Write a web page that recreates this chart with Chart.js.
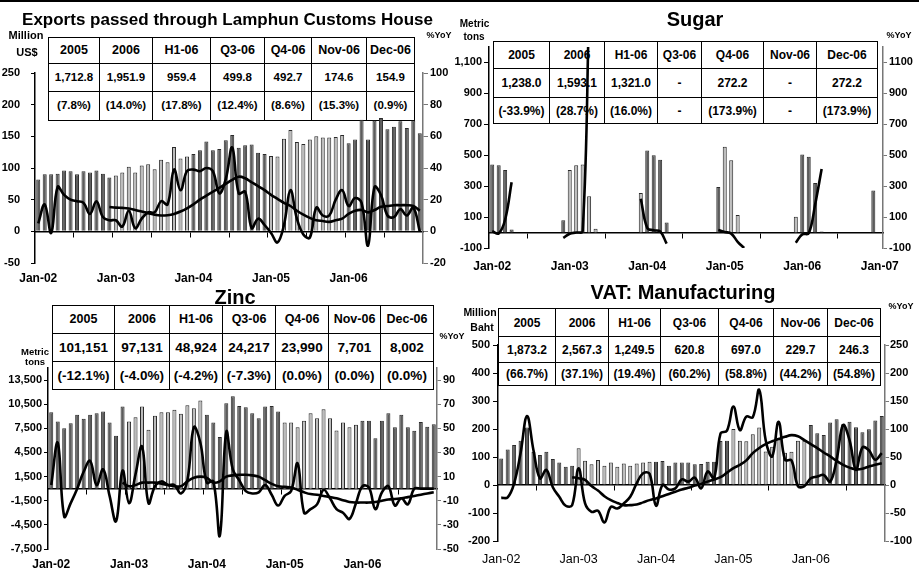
<!DOCTYPE html>
<html><head><meta charset="utf-8">
<script src="https://cdn.jsdelivr.net/npm/chart.js@4.4.0/dist/chart.umd.min.js"></script>
<style>
html,body{margin:0;padding:0;background:#fff;}
body{width:919px;height:568px;overflow:hidden;position:relative;font-family:'Liberation Sans',Arial,sans-serif;color:#000;}
table.t{position:absolute;border-collapse:collapse;font-weight:bold;table-layout:fixed;z-index:1;}
table.t td{border:1.5px solid #000;text-align:center;padding:0;white-space:nowrap;line-height:1;}
.txt{position:absolute;font-weight:bold;text-align:center;white-space:nowrap;line-height:1;z-index:3;}
</style></head>
<body>
<div style="position:absolute;left:0;top:0;width:919px;height:2px;background:#000;z-index:4"></div>
<script>
// ---------- categories ----------
const months = ['Jan-02','Feb-02','Mar-02','Apr-02','May-02','Jun-02','Jul-02','Aug-02','Sep-02','Oct-02','Nov-02','Dec-02',
'Jan-03','Feb-03','Mar-03','Apr-03','May-03','Jun-03','Jul-03','Aug-03','Sep-03','Oct-03','Nov-03','Dec-03',
'Jan-04','Feb-04','Mar-04','Apr-04','May-04','Jun-04','Jul-04','Aug-04','Sep-04','Oct-04','Nov-04','Dec-04',
'Jan-05','Feb-05','Mar-05','Apr-05','May-05','Jun-05','Jul-05','Aug-05','Sep-05','Oct-05','Nov-05','Dec-05',
'Jan-06','Feb-06','Mar-06','Apr-06','May-06','Jun-06','Jul-06','Aug-06','Sep-06','Oct-06','Nov-06','Dec-06',
'Jan-07'];
const months60 = months.slice(0, 60);
const xLabelIdx = [0, 12, 24, 36, 48, 60];
const halfYearMarks = [6, 12, 18, 24, 30, 36, 42, 48, 54];
const midYearMarks = [6, 18, 30, 42, 54];

// ---------- table texts ----------
const tableHeaders = ['2005','2006','H1-06','Q3-06','Q4-06','Nov-06','Dec-06'];
const exportsTableValues = ['1,712.8','1,951.9','959.4','499.8','492.7','174.6','154.9'];
const exportsTableYoY = ['(7.8%)','(14.0%)','(17.8%)','(12.4%)','(8.6%)','(15.3%)','(0.9%)'];
const sugarTableValues = ['1,238.0','1,593.1','1,321.0','-','272.2','-','272.2'];
const sugarTableYoY = ['(-33.9%)','(28.7%)','(16.0%)','-','(173.9%)','-','(173.9%)'];
const zincTableValues = ['101,151','97,131','48,924','24,217','23,990','7,701','8,002'];
const zincTableYoY = ['(-12.1%)','(-4.0%)','(-4.2%)','(-7.3%)','(0.0%)','(0.0%)','(0.0%)'];
const vatTableValues = ['1,873.2','2,567.3','1,249.5','620.8','697.0','229.7','246.3'];
const vatTableYoY = ['(66.7%)','(37.1%)','(19.4%)','(60.2%)','(58.8%)','(44.2%)','(54.8%)'];

// ---------- Exports (Million US$, %YoY) ----------
const exportsBars = [82,90,90,91,96,95,90,95,93,96,91,85,
88,93,102,93,104,106,98,113,109,133,115,118,
122,128,142,128,130,144,152,132,136,137,124,122,
119,118,146,160,141,138,145,150,148,148,149,152,
139,145,176,145,175,179,161,165,174,163,175,155];
const exportsYoY = [5,17,-1,28,23,20,19,18,11,19,9,7,
7,3,13,2,8,12,12,19,17,39,26,38,
39,38,40,38,24,33,53,24,25,2,8,4,
-1,-7,4,26,8,-2,-4,15,10,10,20,26,
16,21,18,-9,28,23,10,9,14,10,15,0];
const exportsTrend = [null,null,null,null,null,null,null,null,null,null,null,
15.4,15,14.8,14.4,13.5,12.5,11.5,10.5,10,10.2,11,12.5,
14.5,17,20,22.5,25,27.5,30,32.5,34.5,33.5,31,28.5,
26,23,20.5,18,16,13,10.5,8.5,7,6.5,6,7,
8,11,13,13.5,12,13.5,15.5,16,16.5,16.5,16.5,16,13];
const exportsLeftTicks = [-50,0,50,100,150,200,250];
const exportsRightTicks = [-20,0,20,40,60,80,100];

// ---------- Sugar (Metric tons, %YoY) ----------
const sugarBars = [440,435,405,20,0,0,0,0,0,0,0,80,
405,435,440,235,25,0,0,0,0,0,0,255,
530,500,470,65,0,0,0,0,0,0,0,295,
555,468,113,0,0,0,0,0,0,0,0,102,
505,490,320,6,0,0,0,0,0,0,0,272,null];
const sugarYoY = [8,-6,84,325,null,null,null,null,null,null,null,-35,
-8,0,9,1467,null,null,null,null,null,null,null,219,
30,15,7,-72,null,null,null,null,null,null,null,16,
4,-7,-60,-100,null,null,null,null,null,null,null,-66,
-12,-5,183,411,null,null,null,null,null,null,null,null,null];
const sugarTicks = [-100,100,300,500,700,900,1100];

// ---------- Zinc (Metric tons, %YoY) ----------
const zincBars = [9510,8350,7520,8140,9180,8680,9180,9380,9590,8230,6570,10210,
8350,8890,10210,7320,9050,9510,9510,9800,9300,10380,10000,10950,
9180,8230,6410,10620,11500,10290,10130,9380,8760,10210,10290,9590,
8230,8230,7650,8430,9380,8760,9880,8760,7230,8230,7650,7940,
8430,8430,6280,8430,9380,7650,9180,7650,7190,8287,7701,8002];
const zincYoY = [3,38,-23,-12,0,14,23,3,16,-6,-27,15,
-12,12,35,-12,2,6,3,3,-4,7,51,38,
5,6,-39,47,16,7,-2,-4,-3,3,-5,-14,
-6,-2,21,-20,-17,-13,-1,-8,-17,-20,-25,-12,
2,1,-17,-3,2,-14,-8,-13,0,0,0,0];
const zincTrend = [null,null,null,null,null,null,null,null,null,null,null,
5,2,3,5,5,5,4,3,2,2,6,9,
10,9,5,6,10,11,11.5,11.5,11,10,7,4,
2,1.5,1,-1,-3,-4.5,-5,-6,-7,-8,-9.5,-11,
-11.5,-11.5,-11.5,-11,-10,-9,-8.5,-8,-7,-6,-5,-4,-3];
const zincLeftTicks = [-7500,-4500,-1500,1500,4500,7500,10500,13500];
const zincRightTicks = [-50,-30,-10,10,30,50,70,90];

// ---------- VAT: Manufacturing (Million Baht, %YoY) ----------
const vatBars = [95,127,143,158,205,119,107,119,93,80,65,69,
131,87,74,89,69,80,65,77,69,77,80,83,
83,86,69,80,80,80,74,75,83,83,157,158,
200,158,156,181,205,120,137,163,115,119,158,158,
214,185,179,223,235,217,226,206,188,199,230,246];
const vatYoY = [-23,-22,3,57,123,62,12,27,-4,-21,-37,-36,
30,-33,-48,-46,-67,-39,-42,-33,-21,3,21,20,
-37,0,-8,-6,10,6,13,-6,24,12,92,97,
140,98,122,121,170,80,51,113,45,44,-2,-2,
12,15,18,6,45,107,80,27,67,62,45,57];
const vatTrend = [null,null,null,null,null,null,null,null,null,null,null,
14,12,9,-2,-10,-20,-27,-32,-36,-36,-35,-31,
-27,-24,-20,-16,-12,-8,-5,-1,2,6,10,14,
22,30,36,44,57,66,73,78,82,86,89,87,
80,73,66,58,51,43,36,31,28,29,33,36,39];
const vatLeftTicks = [-200,-100,0,100,200,300,400,500];
const vatRightTicks = [-100,-50,0,50,100,150,200,250];

// ---------- helpers ----------
const FONT = "'Liberation Sans', Arial, sans-serif";
const DARK = '#5c5c5c', LIGHT = '#bcbcbc', EDGE = '#2a2a2a';
function comma(v){ const s = Math.abs(v).toString().replace(/\B(?=(\d{3})+(?!\d))/g, ','); return (v < 0 ? '-' : '') + s; }
function plain(v){ return String(v); }

function addText(txt, cx, top, size){
  const d = document.createElement('div');
  d.className = 'txt';
  d.textContent = txt;
  d.style.left = (cx - 300) + 'px';
  d.style.width = '600px';
  d.style.top = top + 'px';
  d.style.fontSize = size + 'px';
  document.body.appendChild(d);
}

function addTable(x, y, cols, rows, hdrSize, valSize, data){
  const t = document.createElement('table');
  t.className = 't';
  t.style.left = x + 'px'; t.style.top = y + 'px';
  t.style.width = cols.reduce((a, b) => a + b, 0) + 'px';
  const cg = document.createElement('colgroup');
  cols.forEach(w => { const c = document.createElement('col'); c.style.width = w + 'px'; cg.appendChild(c); });
  t.appendChild(cg);
  const tb = document.createElement('tbody');
  data.forEach((row, r) => {
    const tr = document.createElement('tr');
    tr.style.height = rows[r] + 'px';
    row.forEach(v => {
      const td = document.createElement('td');
      td.textContent = v;
      td.style.fontSize = (r === 0 ? hdrSize : valSize) + 'px';
      td.style.height = rows[r] + 'px';
      tr.appendChild(td);
    });
    tb.appendChild(tr);
  });
  t.appendChild(tb);
  document.body.appendChild(t);
}

function panel(cfg){
  const cv = document.createElement('canvas');
  cv.width = cfg.w; cv.height = cfg.h;
  cv.style.cssText = 'position:absolute;left:' + cfg.x + 'px;top:' + cfg.y + 'px;width:' + cfg.w + 'px;height:' + cfg.h + 'px;z-index:2;';
  document.body.appendChild(cv);
  const datasets = [];
  cfg.lines.forEach(d => datasets.push({
    type: 'line', data: d, yAxisID: 'y1', borderColor: '#000', borderWidth: 2.6,
    pointRadius: 0, tension: 0.4, fill: false, spanGaps: false, order: 0
  }));
  datasets.push({
    type: 'bar', data: cfg.bars, yAxisID: 'y',
    backgroundColor: c => (Math.floor(c.dataIndex / 12) % 2 ? LIGHT : DARK),
    borderColor: EDGE, borderWidth: 1, barPercentage: 0.62, categoryPercentage: 1, order: 1
  });
  const tickFont = {family: FONT, size: 11, weight: 'bold'};
  new Chart(cv, {
    type: 'bar',
    data: {labels: cfg.labels, datasets},
    options: {
      responsive: false, animation: false, devicePixelRatio: 1,
      layout: {padding: {top: cfg.area.t - cfg.y, left: 0, right: 0, bottom: 0}},
      plugins: {legend: {display: false}, tooltip: {enabled: false}},
      scales: {
        x: {
          type: 'category', offset: true, position: {y: 0},
          grid: {display: true, offset: true, drawOnChartArea: false, drawTicks: true, tickLength: 5, lineWidth: 1,
                 color: c => (cfg.marks.includes(c.index) ? '#000' : 'rgba(0,0,0,0)')},
          border: {display: true, color: '#000', width: 1.5},
          ticks: {display: false}
        },
        x2: {
          type: 'category', offset: true, position: 'bottom',
          grid: {display: false, drawTicks: false}, border: {display: false},
          ticks: {autoSkip: false, maxRotation: 0, minRotation: 0, padding: cfg.xPad, color: '#000',
                  font: cfg.xFont,
                  callback: function(v, i){ return xLabelIdx.includes(i) ? this.getLabelForValue(v) : ''; }},
          afterFit: s => { s.height = cfg.y + cfg.h - cfg.area.b; }
        },
        y: {
          type: 'linear', position: 'left', min: cfg.yL.min, max: cfg.yL.max,
          afterBuildTicks: a => { a.ticks = cfg.yL.ticks.map(v => ({value: v})); },
          afterFit: s => { s.width = cfg.area.l - cfg.x; },
          grid: {drawOnChartArea: false, drawTicks: true, tickLength: cfg.yL.tl, color: '#000', lineWidth: 1},
          border: {display: true, color: '#000', width: 1.5},
          ticks: {autoSkip: false, padding: cfg.yL.pad, color: '#000', font: tickFont, callback: cfg.yL.fmt}
        },
        y1: {
          type: 'linear', position: 'right', min: cfg.yR.min, max: cfg.yR.max,
          afterBuildTicks: a => { a.ticks = cfg.yR.ticks.map(v => ({value: v})); },
          afterFit: s => { s.width = cfg.x + cfg.w - cfg.area.r; },
          grid: {drawOnChartArea: false, drawTicks: true, tickLength: cfg.yR.tl, color: '#777', lineWidth: 1},
          border: {display: true, color: '#777', width: 1.5},
          ticks: {autoSkip: false, padding: cfg.yR.pad, color: '#000', font: tickFont, callback: cfg.yR.fmt}
        }
      }
    }
  });
}

const boldX = {family: FONT, size: 12, weight: 'bold'};

// ---------- Exports ----------
addTable(48, 37, [51,53,58,54,47,55,48], [25,27,28], 12.5, 11.5, [tableHeaders, exportsTableValues, exportsTableYoY]);
panel({x: 0, y: 0, w: 460, h: 290, area: {l: 35, r: 423, t: 73, b: 263},
  labels: months60, bars: exportsBars, lines: [exportsYoY, exportsTrend], marks: halfYearMarks,
  xPad: 8, xFont: boldX,
  yL: {min: -50, max: 250, ticks: exportsLeftTicks, tl: 4, pad: 11, fmt: plain},
  yR: {min: -20, max: 100, ticks: exportsRightTicks, tl: 5, pad: 2, fmt: plain}});
addText('Exports passed through Lamphun Customs House', 227.5, 11, 17);
addText('Million', 26, 30, 11);
addText('US$', 27, 46.5, 11);
addText('%YoY', 439, 30.5, 9);

// ---------- Sugar ----------
addTable(493, 41, [56,55,53,44,62,53,61], [26,28,25], 12, 12, [tableHeaders, sugarTableValues, sugarTableYoY]);
panel({x: 452, y: 0, w: 467, h: 290, area: {l: 489, r: 883, t: 47, b: 248},
  labels: months, bars: sugarBars, lines: [sugarYoY], marks: midYearMarks,
  xPad: 11.5, xFont: boldX,
  yL: {min: -100, max: 1200, ticks: sugarTicks, tl: 5, pad: 2, fmt: comma},
  yR: {min: -100, max: 1200, ticks: sugarTicks, tl: 4, pad: 2, fmt: plain}});
addText('Sugar', 695, 8.5, 20);
addText('Metric', 474.5, 18.7, 10);
addText('tons', 474, 32, 10);
addText('%YoY', 899, 31, 9);

// ---------- Zinc ----------
addTable(52, 305, [62,55,53,53,53,52,53], [27,27,27], 12.5, 13.5, [tableHeaders, zincTableValues, zincTableYoY]);
panel({x: 0, y: 290, w: 462, h: 278, area: {l: 48, r: 437, t: 368, b: 549},
  labels: months60, bars: zincBars, lines: [zincYoY, zincTrend], marks: halfYearMarks,
  xPad: 8, xFont: boldX,
  yL: {min: -7500, max: 15000, ticks: zincLeftTicks, tl: 4, pad: 2, fmt: comma},
  yR: {min: -50, max: 100, ticks: zincRightTicks, tl: 4, pad: 2, fmt: plain}});
addText('Zinc', 235, 286.8, 20);
addText('Metric', 35, 347, 9.5);
addText('tons', 35, 357, 9.5);
addText('%YoY', 452, 332, 9);

// ---------- VAT: Manufacturing ----------
addTable(498, 308, [57,53,52,58,55,54,53], [27,25,22], 12, 12, [tableHeaders, vatTableValues, vatTableYoY]);
panel({x: 460, y: 290, w: 459, h: 278, area: {l: 498, r: 885, t: 345, b: 541},
  labels: months60, bars: vatBars, lines: [vatYoY, vatTrend], marks: midYearMarks,
  xPad: 11, xFont: {family: FONT, size: 12.5, weight: 'normal'},
  yL: {min: -200, max: 500, ticks: vatLeftTicks, tl: 5, pad: 3, fmt: plain},
  yR: {min: -100, max: 250, ticks: vatRightTicks, tl: 4, pad: 1, fmt: plain}});
addText('VAT: Manufacturing', 683, 282.4, 20);
addText('Million', 480, 307, 10.5);
addText('Baht', 482, 322, 10.5);
addText('%YoY', 901, 302, 9);
</script>
</body></html>
